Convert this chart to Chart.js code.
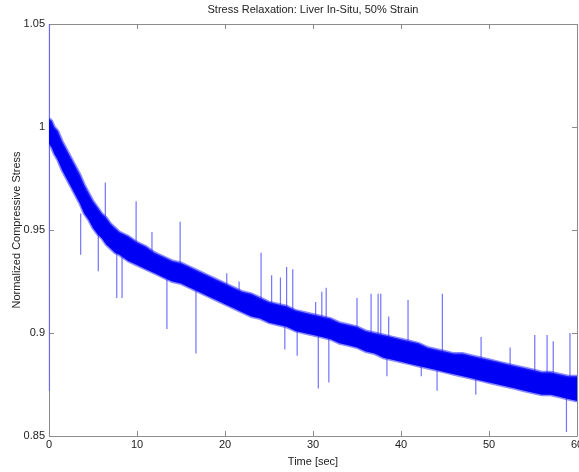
<!DOCTYPE html>
<html>
<head>
<meta charset="utf-8">
<script src="https://cdn.jsdelivr.net/npm/chart.js@4/dist/chart.umd.min.js"></script>
<style>
  html, body { margin: 0; padding: 0; background: #fff; }
  #wrap { width: 579px; height: 472px; }
</style>
</head>
<body>
<div id="wrap"><canvas id="grafico" width="579" height="472"></canvas></div>
<script>
'use strict';

// ── data ──────────────────────────────────────────────────────
const bandTime = [0, 0.3, 0.6, 1, 1.5, 2, 2.5, 3, 3.5, 4, 4.5, 5, 5.5, 6, 6.5, 7, 7.5, 8, 9, 10,
  11, 12, 13, 14, 15, 16, 17, 18, 19, 20, 21, 22, 23, 24, 25, 26, 27, 28, 29, 30,
  31, 32, 33, 34, 35, 36, 37, 38, 39, 40, 41, 42, 43, 44, 45, 46, 47, 48, 49, 50,
  51, 52, 53, 54, 55, 56, 57, 58, 59, 60];
const bandUpper = [1.004, 1.003, 1.000, 0.998, 0.993, 0.989, 0.985, 0.981, 0.977, 0.972, 0.968, 0.964, 0.961, 0.958, 0.956, 0.953, 0.951, 0.949, 0.947, 0.944,
  0.942, 0.939, 0.937, 0.935, 0.934, 0.932, 0.930, 0.928, 0.926, 0.924, 0.922, 0.920, 0.919, 0.917, 0.915, 0.914, 0.913, 0.911, 0.910, 0.909,
  0.908, 0.907, 0.905, 0.904, 0.903, 0.901, 0.900, 0.899, 0.898, 0.897, 0.896, 0.895, 0.893, 0.892, 0.891, 0.890, 0.890, 0.889, 0.888, 0.887,
  0.886, 0.885, 0.884, 0.883, 0.882, 0.881, 0.881, 0.880, 0.879, 0.879];
const bandLower = [0.992, 0.990, 0.987, 0.984, 0.979, 0.975, 0.971, 0.967, 0.963, 0.958, 0.955, 0.951, 0.948, 0.946, 0.943, 0.941, 0.939, 0.938, 0.935, 0.933,
  0.931, 0.929, 0.927, 0.925, 0.924, 0.922, 0.920, 0.918, 0.916, 0.914, 0.912, 0.910, 0.908, 0.907, 0.905, 0.904, 0.903, 0.901, 0.900, 0.899,
  0.898, 0.897, 0.895, 0.894, 0.893, 0.891, 0.890, 0.888, 0.887, 0.886, 0.885, 0.884, 0.883, 0.882, 0.881, 0.880, 0.879, 0.878, 0.877, 0.876,
  0.875, 0.874, 0.873, 0.872, 0.871, 0.870, 0.870, 0.869, 0.868, 0.867];

// single-sample spikes: time, start value, end value
const spikeTime = [0.05, 3.6, 5.6, 6.4, 7.7, 8.3, 9.9, 11.7, 13.4, 14.9, 16.7, 20.2, 21.6, 24.1, 25.3, 26.3, 26.8, 27, 27.7, 28.2,
  30.3, 30.6, 31, 31.5, 31.8, 35, 36.6, 37.4, 37.7, 38.4, 38.6, 40.8, 42.3, 44.1, 44.7, 48.5, 49.1, 52.4, 55.2, 56.6, 57.3, 58.8, 59.2];
const spikeFrom = [0.872, 0.958, 0.950, 0.950, 0.945, 0.942, 0.940, 0.935, 0.932, 0.929, 0.927, 0.919, 0.915, 0.912, 0.910, 0.909, 0.908, 0.908, 0.907, 0.906,
  0.904, 0.904, 0.903, 0.902, 0.902, 0.897, 0.896, 0.895, 0.895, 0.893, 0.893, 0.891, 0.889, 0.887, 0.886, 0.883, 0.882, 0.880, 0.877, 0.876, 0.875, 0.874, 0.873];
const spikeTo = [1.05, 0.938, 0.930, 0.973, 0.917, 0.917, 0.964, 0.949, 0.902, 0.954, 0.890, 0.929, 0.925, 0.939, 0.928, 0.927, 0.892, 0.932, 0.931, 0.889,
  0.915, 0.873, 0.920, 0.922, 0.876, 0.917, 0.919, 0.919, 0.919, 0.879, 0.908, 0.916, 0.879, 0.872, 0.919, 0.870, 0.898, 0.893, 0.899, 0.899, 0.896, 0.852, 0.900];

const xTicks = [0, 10, 20, 30, 40, 50, 60];
const yTicks = [0.85, 0.9, 0.95, 1, 1.05];

const FONT = "'Liberation Sans', Arial, sans-serif";

// ── build datasets ─────────────────────────────────────────────
const upperPts = bandTime.map((t, i) => ({ x: t, y: bandUpper[i] }));
const lowerPts = bandTime.map((t, i) => ({ x: t, y: bandLower[i] }));
const spikePts = [];
spikeTime.forEach((t, i) => {
  spikePts.push({ x: t, y: spikeFrom[i] }, { x: t, y: spikeTo[i] }, { x: t, y: null });
});

// MATLAB style box, inward ticks, title and axis labels
const matlabAxes = {
  id: 'matlabAxes',
  beforeDatasetsDraw(chart) {
    const { ctx, chartArea: a, scales: { x, y } } = chart;
    ctx.save();
    ctx.strokeStyle = '#8c8c8c';
    ctx.lineWidth = 1;
    ctx.beginPath();
    ctx.rect(Math.round(a.left) + 0.5, Math.round(a.top) + 0.5, Math.round(a.right - a.left), Math.round(a.bottom - a.top));
    ctx.stroke();
    ctx.beginPath();
    xTicks.forEach(v => {
      const px = Math.round(x.getPixelForValue(v)) + 0.5;
      ctx.moveTo(px, a.bottom); ctx.lineTo(px, a.bottom - 5);
      ctx.moveTo(px, a.top); ctx.lineTo(px, a.top + 5);
    });
    yTicks.forEach(v => {
      const py = Math.round(y.getPixelForValue(v)) + 0.5;
      ctx.moveTo(a.left, py); ctx.lineTo(a.left + 5, py);
      ctx.moveTo(a.right, py); ctx.lineTo(a.right - 5, py);
    });
    ctx.stroke();
    ctx.restore();
  },
  afterDraw(chart) {
    const { ctx, chartArea: a } = chart;
    ctx.save();
    ctx.fillStyle = '#222';
    ctx.font = '11px ' + FONT;
    ctx.textAlign = 'center';
    ctx.textBaseline = 'middle';
    ctx.fillText('Stress Relaxation: Liver In-Situ, 50% Strain', (a.left + a.right) / 2, 10);
    ctx.fillText('Time [sec]', (a.left + a.right) / 2, 462);
    ctx.translate(17, (a.top + a.bottom) / 2);
    ctx.rotate(-Math.PI / 2);
    ctx.fillText('Normalized Compressive Stress', 0, 0);
    ctx.restore();
  }
};

new Chart(document.getElementById('grafico').getContext('2d'), {
  type: 'line',
  data: {
    datasets: [
      {
        data: upperPts,
        borderColor: 'rgba(40,40,255,0.55)',
        borderWidth: 3,
        backgroundColor: '#0000f5',
        fill: '+1',
        pointRadius: 0,
        tension: 0
      },
      {
        data: lowerPts,
        borderColor: 'rgba(40,40,255,0.55)',
        borderWidth: 3,
        fill: false,
        pointRadius: 0,
        tension: 0
      },
      {
        data: spikePts,
        borderColor: 'rgba(100,100,255,0.9)',
        borderWidth: 1.2,
        fill: false,
        pointRadius: 0,
        spanGaps: false,
        clip: false
      }
    ]
  },
  options: {
    responsive: false,
    animation: false,
    devicePixelRatio: 1,
    layout: { padding: { top: 24, right: 2, left: 0, bottom: 0 } },
    plugins: { legend: { display: false }, tooltip: { enabled: false }, title: { display: false } },
    scales: {
      x: {
        type: 'linear', min: 0, max: 60,
        afterBuildTicks: s => { s.ticks = xTicks.map(v => ({ value: v })); },
        ticks: { color: '#222', font: { family: FONT, size: 11 }, padding: 2, maxRotation: 0, autoSkip: false },
        grid: { display: false, drawTicks: false },
        border: { display: false },
        afterFit: s => { s.height = 36; s.paddingLeft = 0; s.paddingRight = 0; }
      },
      y: {
        type: 'linear', min: 0.85, max: 1.05,
        afterBuildTicks: s => { s.ticks = yTicks.map(v => ({ value: v })); },
        ticks: {
          color: '#222', font: { family: FONT, size: 11 }, padding: 4, autoSkip: false,
          callback: v => String(Number(v.toFixed(2)))
        },
        grid: { display: false, drawTicks: false },
        border: { display: false },
        afterFit: s => { s.width = 49; s.paddingTop = 0; s.paddingBottom = 0; }
      }
    }
  },
  plugins: [matlabAxes]
});
</script>
</body>
</html>
